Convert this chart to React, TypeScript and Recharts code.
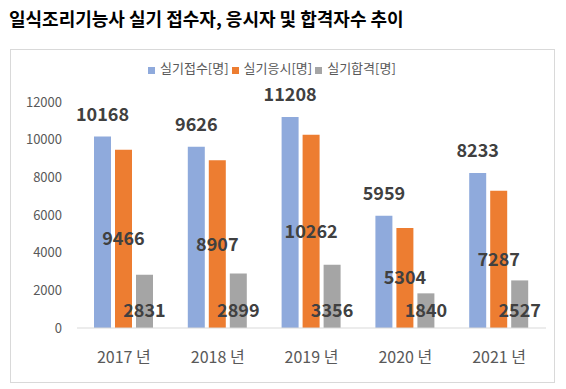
import { BarChart, Bar, XAxis, YAxis, Legend, LabelList } from "recharts";

/* ---------- Data ---------- */

const years = ["2017 년", "2018 년", "2019 년", "2020 년", "2021 년"];
const applied = [10168, 9626, 11208, 5959, 8233]; // 실기접수
const tested = [9466, 8907, 10262, 5304, 7287]; // 실기응시
const passed = [2831, 2899, 3356, 1840, 2527]; // 실기합격
const yTicks = [0, 2000, 4000, 6000, 8000, 10000, 12000];

const seriesNames = ["실기접수[명]", "실기응시[명]", "실기합격[명]"];
const seriesColors = ["#8faadc", "#ed7d31", "#a5a5a5"];

const data = years.map((year, i) => ({
  year,
  applied: applied[i],
  tested: tested[i],
  passed: passed[i],
}));

const FONT = "'Noto Sans CJK KR', 'Noto Sans', sans-serif";

/* ---------- Legend ---------- */

function TopLegend() {
  return (
    <div
      style={{
        height: 44,
        display: "flex",
        alignItems: "flex-start",
        paddingLeft: 137,
        fontFamily: FONT,
        fontSize: 13,
        color: "#595959",
        lineHeight: "20px",
        boxSizing: "border-box",
      }}
    >
      {seriesNames.map((name, i) => (
        <span key={name} style={{ display: "flex", alignItems: "center", marginRight: 3 }}>
          <span
            style={{
              width: 7,
              height: 7,
              background: seriesColors[i],
              marginRight: 5,
              marginTop: 4,
            }}
          />
          {name}
        </span>
      ))}
    </div>
  );
}

/* ---------- Component ---------- */

export default function App() {
  const labelStyle = {
    fontFamily: FONT,
    fontSize: 18,
    fontWeight: 700,
    fill: "#404040",
  };

  return (
    <div style={{ position: "absolute", left: 0, top: 0, width: 566, height: 389, background: "#fff" }}>
      <div
        style={{
          position: "absolute",
          left: 9,
          top: 7,
          fontFamily: FONT,
          fontSize: 18,
          fontWeight: 700,
          lineHeight: "22px",
          color: "#000",
        }}
      >
        일식조리기능사 실기 접수자, 응시자 및 합격자수 추이
      </div>
      <div
        style={{
          position: "absolute",
          left: 10,
          top: 49,
          width: 545,
          height: 334,
          border: "1px solid #d9d9d9",
          boxSizing: "border-box",
        }}
      >
        <BarChart
          width={543}
          height={332}
          data={data}
          margin={{ top: 8, right: 8, bottom: 0, left: 0 }}
          barSize={17}
          barGap={4}
        >
          <Legend verticalAlign="top" content={() => <TopLegend />} />
          <XAxis
            dataKey="year"
            height={54}
            tickLine={false}
            tickSize={0}
            tickMargin={24}
            axisLine={{ stroke: "#d9d9d9" }}
            tick={{ fontFamily: FONT, fontSize: 16, fill: "#595959" }}
          />
          <YAxis
            width={66}
            domain={[0, 12000]}
            ticks={yTicks}
            axisLine={false}
            tickLine={false}
            tickSize={0}
            tickMargin={15}
            tick={{ fontFamily: FONT, fontSize: 13, fill: "#595959" }}
          />
          <Bar dataKey="applied" name={seriesNames[0]} fill={seriesColors[0]} isAnimationActive={false}>
            <LabelList dataKey="applied" position="top" offset={16} style={labelStyle} />
          </Bar>
          <Bar dataKey="tested" name={seriesNames[1]} fill={seriesColors[1]} isAnimationActive={false}>
            <LabelList dataKey="tested" position="center" style={labelStyle} />
          </Bar>
          <Bar dataKey="passed" name={seriesNames[2]} fill={seriesColors[2]} isAnimationActive={false}>
            <LabelList dataKey="passed" position="insideBottom" offset={11} style={labelStyle} />
          </Bar>
        </BarChart>
      </div>
    </div>
  );
}
